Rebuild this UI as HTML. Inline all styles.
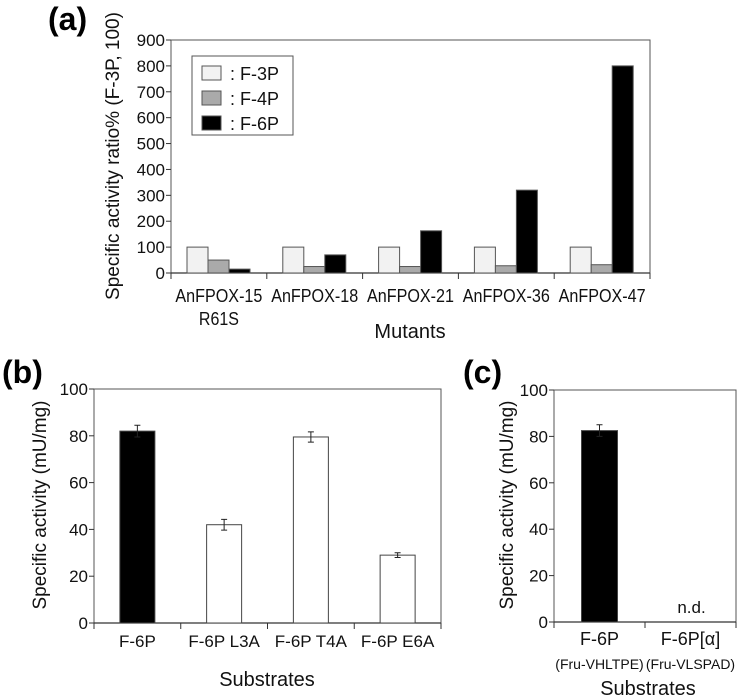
<!DOCTYPE html>
<html><head><meta charset="utf-8"><style>
body{margin:0;background:#fff}
svg{display:block;font-family:"Liberation Sans",sans-serif}
</style></head><body>
<svg id="fig" width="747" height="699" xmlns="http://www.w3.org/2000/svg">
<g id="ga"></g>
<g id="gb"></g>
<g id="gc"></g>
</svg>
<script>
const aCategories=["AnFPOX-15","AnFPOX-18","AnFPOX-21","AnFPOX-36","AnFPOX-47"];
const aCategories2=["R61S","","","",""];
const aF3P=[100,100,100,100,100];
const aF4P=[50,25,25,28,32];
const aF6P=[15,70,163,320,800];
const aTicks=[0,100,200,300,400,500,600,700,800,900];
const bCategories=["F-6P","F-6P L3A","F-6P T4A","F-6P E6A"];
const bValues=[82,42,79.5,29];
const bErrors=[2.5,2.3,2.2,1];
const bTicks=[0,20,40,60,80,100];
const cCategories=["F-6P","F-6P[\u03b1]"];
const cSub=["(Fru-VHLTPE)","(Fru-VLSPAD)"];
const cValues=[82.5,null];
const cErrors=[2.5,0];
const cTicks=[0,20,40,60,80,100];

const NS="http://www.w3.org/2000/svg";
function mk(p,t,a,txt){const e=document.createElementNS(NS,t);for(const k in a)e.setAttribute(k,a[k]);if(txt!==undefined)e.textContent=txt;p.appendChild(e);return e;}

function axes(g,x0,x1,yTop,y0,ticks,max,ncat){
  const ys=v=>y0-(v/max)*(y0-yTop);
  let e=mk(g,'rect',{x:x0,y:yTop,width:x1-x0,height:y0-yTop,fill:'none',stroke:'#555','stroke-width':1});
  
  ticks.forEach(t=>{
    let l=mk(g,'line',{x1:x0-5,x2:x0,y1:ys(t),y2:ys(t),stroke:'#333'});
    
    let tx=mk(g,'text',{x:x0-6,y:ys(t)+6,'font-size':17,'text-anchor':'end',fill:'#111'},String(t));
    
  });
  const w=(x1-x0)/ncat;
  for(let i=0;i<=ncat;i++){
    let l=mk(g,'line',{x1:x0+i*w,x2:x0+i*w,y1:y0,y2:y0+6,stroke:'#333'});
    
  }
  let ax=mk(g,'line',{x1:x0,x2:x1,y1:y0,y2:y0,stroke:'#333','stroke-width':1.2});
  
  return ys;
}

// Panel a
(function(){
  const g=document.getElementById('ga');
  const x0=171,x1=650,yTop=40,y0=273;
  const ys=axes(g,x0,x1,yTop,y0,aTicks,900,aCategories.length);
  const w=(x1-x0)/aCategories.length;
  const series=[[aF3P,'#f2f2f2','bar-f3p'],[aF4P,'#aaaaaa','bar-f4p'],[aF6P,'#000','bar-f6p']];
  aCategories.forEach((c,i)=>{
    series.forEach((s,j)=>{
      const v=s[0][i];
      let r=mk(g,'rect',{x:x0+i*w+16+j*21,y:ys(v),width:21,height:y0-ys(v),fill:s[1],stroke:'#555','stroke-width':1});
      
    });
    let t=mk(g,'text',{x:x0+(i+0.5)*w,y:302,'font-size':18,'text-anchor':'middle',fill:'#111',textLength:87,lengthAdjust:'spacingAndGlyphs'},c);
    
    if(aCategories2[i]){let t2=mk(g,'text',{x:x0+(i+0.5)*w,y:325,'font-size':18,'text-anchor':'middle',fill:'#111',textLength:40,lengthAdjust:'spacingAndGlyphs'},aCategories2[i]);
    }
  });
  let xt=mk(g,'text',{x:410,y:338,'font-size':20,'text-anchor':'middle',fill:'#111'},'Mutants');
  
  let yt=mk(g,'text',{x:0,y:0,'font-size':19,'text-anchor':'middle',fill:'#111',transform:'translate(119,156) rotate(-90)'},'Specific activity ratio% (F-3P, 100)');
  
  let pl=mk(g,'text',{x:48,y:30,'font-size':32,'font-weight':'bold',fill:'#000'},'(a)');
  
  const lg=mk(g,'g',{});
  
  mk(lg,'rect',{x:192,y:56,width:101,height:79,fill:'#fff',stroke:'#555'});
  [['F-3P','#f2f2f2'],['F-4P','#aaaaaa'],['F-6P','#000']].forEach((s,k)=>{
    const cy=73+k*25;
    let sw=mk(lg,'rect',{x:202,y:cy-7,width:19,height:14,fill:s[1],stroke:'#555'});
    
    let t=mk(lg,'text',{x:230,y:cy+7,'font-size':18,fill:'#111'},': '+s[0]);
    
  });
})();

function errbar(g,cx,yv){
  let l=mk(g,'path',{d:`M${cx},${yv[0]}V${yv[1]}M${cx-3},${yv[0]}H${cx+3}M${cx-3},${yv[1]}H${cx+3}`,stroke:'#222','stroke-width':1,fill:'none'});
  
}

// Panel b
(function(){
  const g=document.getElementById('gb');
  const x0=94,x1=441,yTop=389,y0=623;
  const ys=axes(g,x0,x1,yTop,y0,bTicks,100,bCategories.length);
  const w=(x1-x0)/bCategories.length;
  bCategories.forEach((c,i)=>{
    const v=bValues[i];const cx=x0+(i+0.5)*w;
    let r=mk(g,'rect',{x:cx-17.5,y:ys(v),width:35,height:y0-ys(v),fill:i===0?'#000':'#fff',stroke:'#444','stroke-width':1});
    
    errbar(g,cx,[ys(v+bErrors[i]),ys(v-bErrors[i])]);
    let t=mk(g,'text',{x:cx,y:647,'font-size':17,'text-anchor':'middle',fill:'#111'},c);
    
  });
  let xt=mk(g,'text',{x:267,y:686,'font-size':20,'text-anchor':'middle',fill:'#111'},'Substrates');
  
  let yt=mk(g,'text',{x:0,y:0,'font-size':19,'text-anchor':'middle',fill:'#111',transform:'translate(46,505) rotate(-90)'},'Specific activity (mU/mg)');
  
  let pl=mk(g,'text',{x:2,y:383,'font-size':32,'font-weight':'bold',fill:'#000'},'(b)');
  
})();

// Panel c
(function(){
  const g=document.getElementById('gc');
  const x0=554,x1=736,yTop=390,y0=622;
  const ys=axes(g,x0,x1,yTop,y0,cTicks,100,cCategories.length);
  const w=(x1-x0)/cCategories.length;
  cCategories.forEach((c,i)=>{
    const cx=x0+(i+0.5)*w;const v=cValues[i];
    if(v!==null){
      let r=mk(g,'rect',{x:cx-18,y:ys(v),width:36,height:y0-ys(v),fill:'#000',stroke:'#444'});
      
      errbar(g,cx,[ys(v+cErrors[i]),ys(v-cErrors[i])]);
    } else {
      let t=mk(g,'text',{x:cx+1,y:613,'font-size':17,'text-anchor':'middle',fill:'#111'},'n.d.');
      
    }
    let t=mk(g,'text',{x:cx,y:645,'font-size':18,'text-anchor':'middle',fill:'#111'},c);
    
    let t2=mk(g,'text',{x:cx,y:669,'font-size':14,'text-anchor':'middle',fill:'#111'},cSub[i]);
    
  });
  let xt=mk(g,'text',{x:648,y:695,'font-size':20,'text-anchor':'middle',fill:'#111'},'Substrates');
  
  let yt=mk(g,'text',{x:0,y:0,'font-size':19,'text-anchor':'middle',fill:'#111',transform:'translate(513,505) rotate(-90)'},'Specific activity (mU/mg)');
  
  let pl=mk(g,'text',{x:463,y:383,'font-size':32,'font-weight':'bold',fill:'#000'},'(c)');
  
})();
</script>
</body></html>
